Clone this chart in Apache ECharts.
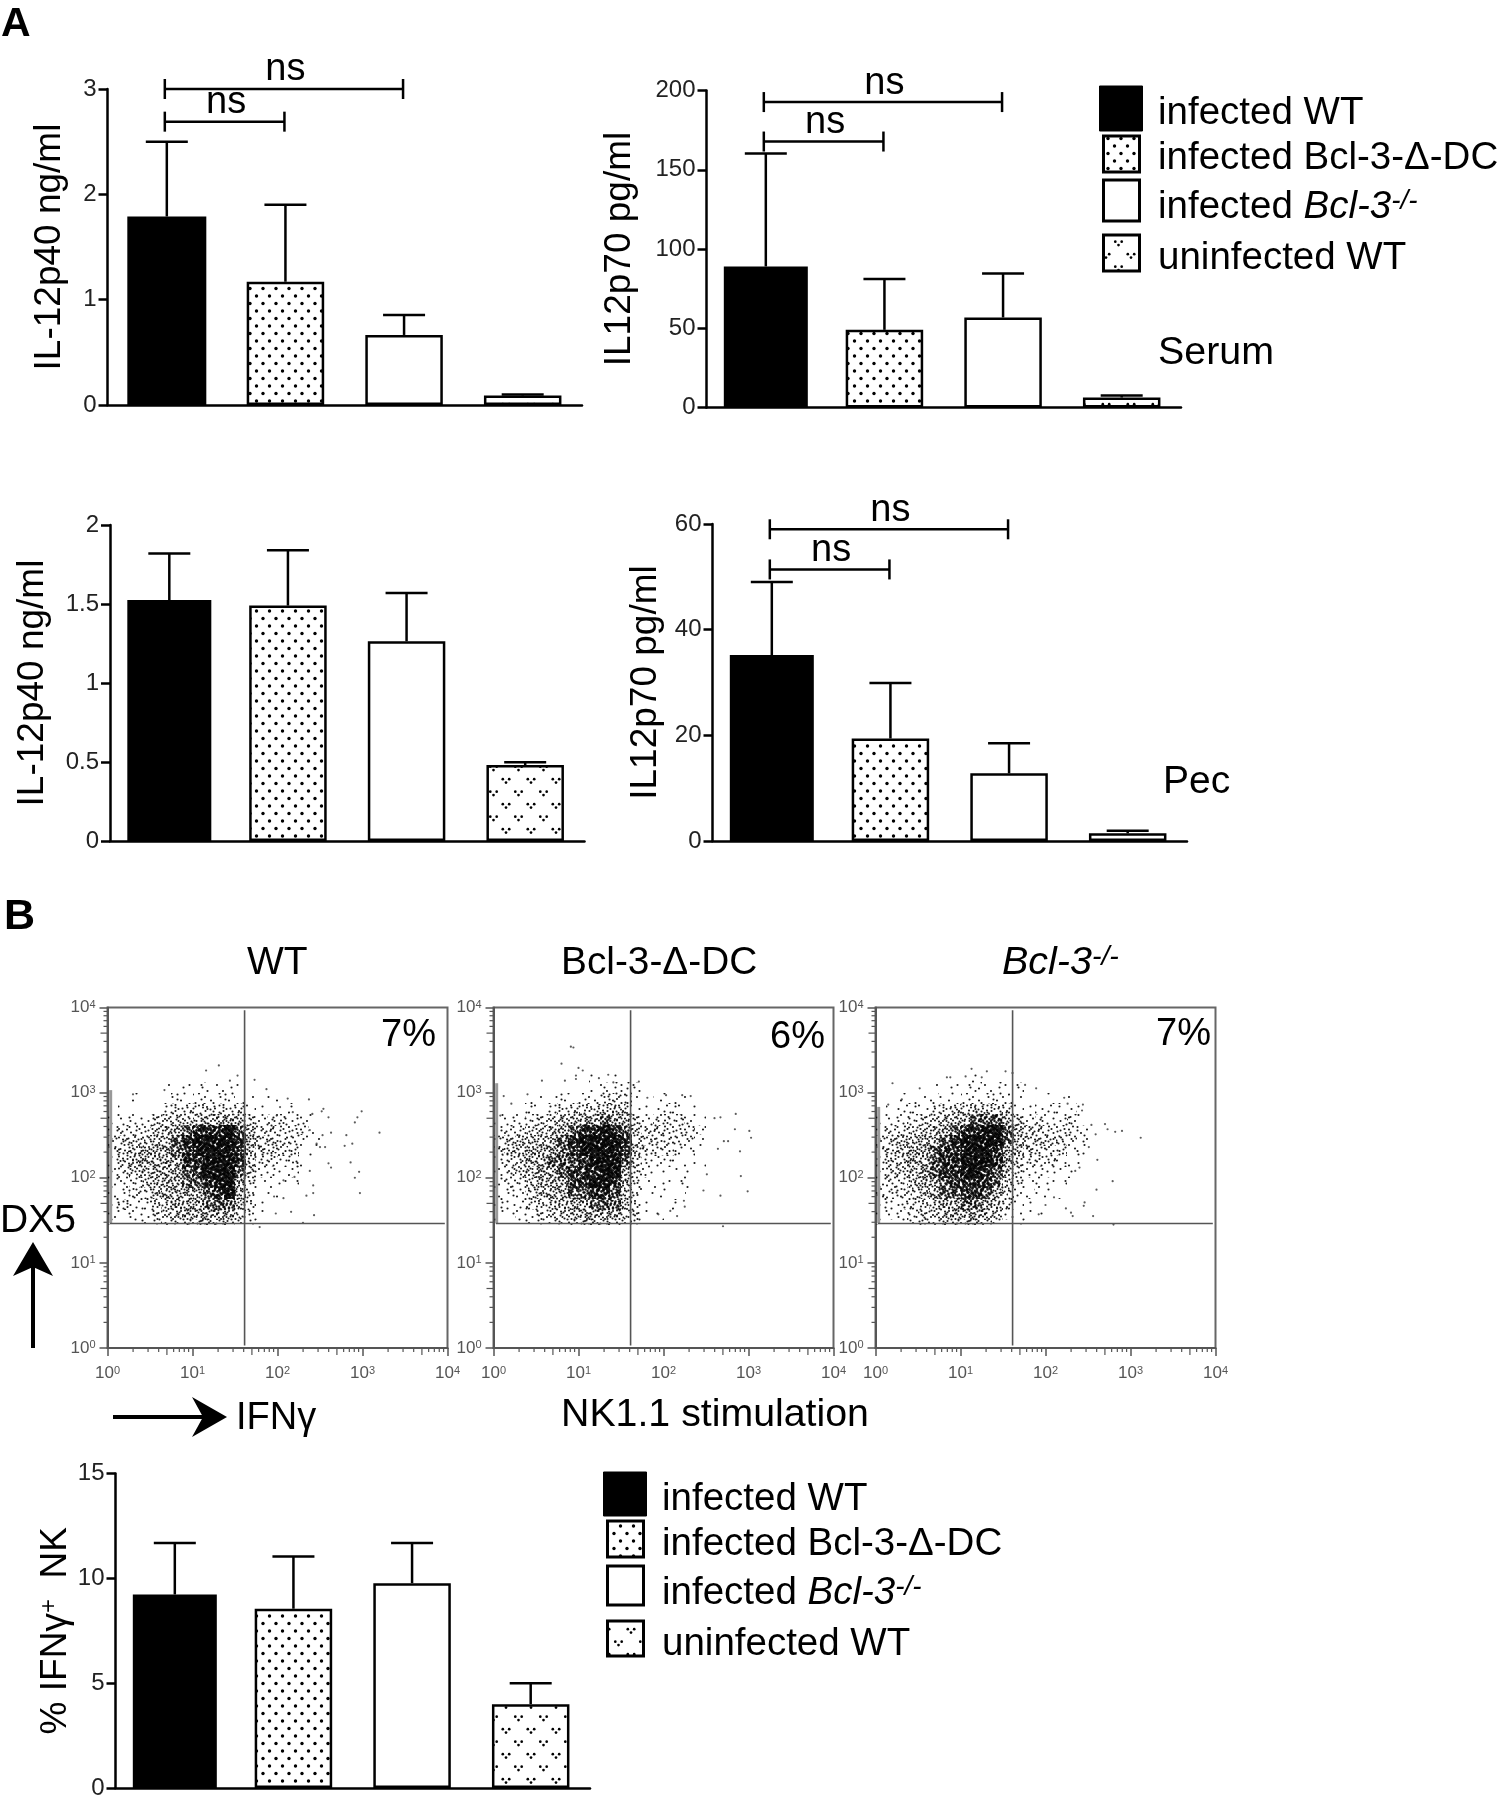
<!DOCTYPE html>
<html>
<head>
<meta charset="utf-8">
<title>Bcl-3 IL-12 and NK cell panels</title>
<style>
html, body { margin: 0; padding: 0; background: #fff; }
#main { width: 1499px; height: 1800px; }
/* the original figure is a slightly soft scan */
#main canvas { filter: blur(0.4px); }
</style>
<script src="https://cdn.jsdelivr.net/npm/echarts@6/dist/echarts.min.js"></script>
</head>
<body>
<div id="main"></div>
<script>
// group names, same order in every bar panel
var groupNames = ['infected WT', 'infected Bcl-3-Δ-DC', 'infected Bcl-3-/-', 'uninfected WT'];

// bar heights and tops of the error bars
var serumP40Means = [1.79, 1.17, 0.665, 0.09];
var serumP40Tops = [2.5, 1.9, 0.855, 0.1];
var serumP70Means = [89, 49, 56.8, 6.3];
var serumP70Tops = [160.3, 81, 84.6, 7.6];
var pecP40Means = [1.525, 1.49, 1.264, 0.481];
var pecP40Tops = [1.82, 1.84, 1.57, 0.498];
var pecP70Means = [35.2, 19.4, 12.8, 1.45];
var pecP70Tops = [49, 29.9, 18.5, 1.95];
var ifnMeans = [9.23, 8.55, 9.77, 4.0];
var ifnTops = [11.69, 11.04, 11.69, 5.0];

// significance brackets: from group, to group, height
var serumP40Brackets = [[0, 2, 3], [0, 1, 2.69]];
var serumP70Brackets = [[0, 2, 192.7], [0, 1, 167.8]];
var pecP70Brackets = [[0, 2, 59], [0, 1, 51.4]];

// flow plots: gates and the pile-up of events on the left edge
var flowTitles = ['WT', 'Bcl-3-Δ-DC', 'Bcl-3-/-'];
var flowPercents = ['7%', '6%', '7%'];
var gateX = [41, 41, 41];
var gateY = [29, 29, 29];
var edgePileTops = [1070, 1290, 680];
var logDecades = [1, 10, 100, 1000];
var logMinors = [2, 3, 4, 5, 6, 7, 8, 9];

// event density, one digit per cell (0 empty, 9 almost black)
// rows go down from 10^3.25, columns go right from 10^0, each 1/8 decade
var densityWT = [
    '000000000000000000000',
    '000001011111100000000',
    '001001212222110100000',
    '011012333433321111100',
    '122234445566532332210',
    '233345678889753433310',
    '344455789999864433210',
    '345666789999854443110',
    '245666688999853323100',
    '234556678999742212000',
    '223456677899631111000',
    '223356666789631100000',
    '232245666777531100000',
    '212234566666421000000',
    '111223344444220000000'
];
var densityDC = [
    '000000000111000000000',
    '000000000122210000000',
    '000111212233310111100',
    '011212334445421222110',
    '122334556676632333210',
    '233445678898743433320',
    '345556789999844333310',
    '355666789999853332200',
    '234667778999742221110',
    '234566788899632111110',
    '233466688998631111100',
    '222456677887531110100',
    '222345566777531111000',
    '112234456666431100000',
    '112222334443320000000'
];
var densityKO = [
    '000000100100100000000',
    '000001011212110000000',
    '001112112222211010100',
    '012223344544321221210',
    '122334556777542322310',
    '233445678899754433320',
    '345566789999754444320',
    '345667889998654333220',
    '344667889998643332110',
    '244567889987532221100',
    '233566788887431211000',
    '333456778876422111000',
    '223345667765321110000',
    '122344566654211100000',
    '111233444432110000000'
];

// single events away from the cloud, as [log10 x, log10 y]
var strayWT = [[3.2, 2.53], [2.99, 2.78], [2.94, 2.71], [2.91, 2.65], [2.81, 2.5], [2.79, 2.375], [2.88, 2.4], [2.86, 2.18], [2.96, 2.07], [2.91, 2], [2.97, 1.82], [2.6, 2.71], [2.54, 2.81], [2.52, 2.78], [2.41, 2.75], [2.37, 2.92], [2.12, 2.93], [1.87, 3.04], [1.73, 3.15], [1.53, 3.2], [1.44, 3.14], [1.31, 3.32], [1.16, 3.26], [0.3, 2.98], [0.67, 3.03], [2.42, 1.82], [2.42, 1.91], [2.38, 2.08], [2.6, 2.17], [2.63, 2.12], [2.43, 1.56], [2.16, 1.6], [1.98, 1.58], [2.07, 1.76], [2.07, 1.97], [2.2, 2.01], [2.34, 1.79], [1.96, 1.78], [1.79, 1.42], [2.3, 1.47], [2.5, 2.36], [2.56, 2.36], [2.46, 2.4], [2.63, 2.53], [2.53, 2.5], [2.38, 2.56], [2.18, 2.77], [2.03, 2.83], [1.99, 2.73]];
var strayDC = [[0.94, 3.53], [0.91, 3.54], [0.8, 3.34], [1, 3.29], [1.05, 3.26], [0.97, 3.2], [0.97, 3.16], [0.57, 3.14], [0.84, 3.14], [1.35, 3.21], [1.24, 3.17], [1.41, 3.12], [1.71, 3.13], [1.81, 2.94], [2.03, 2.97], [2.22, 2.97], [2.32, 2.96], [2.85, 2.75], [2.67, 2.71], [2.6, 2.7], [2.71, 2.43], [2.76, 2.43], [2.84, 2.57], [3.01, 2.55], [3.03, 2.47], [2.9, 2.31], [2.91, 2.02], [2.99, 1.84], [2.67, 1.79], [2.64, 2.34], [2.7, 1.43], [2.24, 1.73], [2.25, 1.66], [2.16, 1.55], [2.08, 1.61], [1.94, 1.57], [2.47, 1.85], [2.51, 2.04], [0.4, 2.98], [0.12, 2.96], [0.21, 2.87], [0.08, 2.73]];
var strayKO = [[3.12, 2.47], [2.9, 2.55], [2.82, 2.54], [2.73, 2.57], [2.7, 2.63], [2.79, 1.96], [2.6, 1.86], [2.54, 2.62], [2.59, 2.51], [2.61, 2.21], [2.56, 1.55], [2.46, 1.71], [2.45, 1.67], [2.32, 1.55], [2.3, 1.59], [2.24, 1.64], [2.44, 2.86], [2.43, 2.79], [2.22, 2.94], [2.26, 2.87], [1.89, 3.05], [1.76, 3.09], [1.53, 3.25], [1.31, 3.25], [1.13, 3.28], [1.25, 3.18], [1.06, 3.19], [0.88, 3.18], [0.84, 3.18], [0.52, 3.05], [0.2, 3.11], [0.31, 2.92], [0.15, 2.86], [2.8, 1.45], [2.1, 1.77], [1.92, 1.57], [2, 1.68], [2.35, 2.08], [2.4, 2.12], [2.51, 2.36]];

var FONT = '"Liberation Sans", Arial, sans-serif';
var CLOUD_STEP = 0.125;
var CLOUD_TOP = 3.25;
var CLOUD_FLOOR = 1.44;

// stipple used for the flow clouds: digit decides from which level a dot shows, 0 never
var stippleRows = [
    '305172946083517293640158',
    '718462039571846205937264',
    '264905817362095481726039',
    '590738264019637250481672',
    '137526094875312968407351',
    '842019673241850736192584',
    '069385127960428513670429',
    '475612840537196024835716',
    '921047358162739481052983',
    '360895214706482597316204',
    '784231609358015263948571',
    '153976482014367819502638',
    '608425137692840135769240',
    '291763058417926370481596',
    '547018926350148592637013',
    '836491270685371046219785',
    '012857463192605784930462',
    '679304518726439120857316',
    '358140692875013469271058',
    '124796835064278513906427',
    '780523149360891627345190',
    '465918270234756019682543',
    '903267584192340875126079',
    '216840395718562934708615'
];

function makeTile(w, h, draw) {
    var c = document.createElement('canvas');
    c.width = w;
    c.height = h;
    var ctx = c.getContext('2d');
    ctx.fillStyle = '#000';
    draw(ctx);
    return { image: c, repeat: 'repeat' };
}

function dot(ctx, x, y, r) {
    ctx.beginPath();
    ctx.arc(x, y, r, 0, Math.PI * 2);
    ctx.fill();
}

var cloudTiles = [null];
for (var lvl = 1; lvl <= 9; lvl++) {
    (function (level) {
        // the densest cells get fatter dots so the core closes up to nearly black
        var radius = 1.05 + Math.max(0, level - 6) * 0.17;
        cloudTiles[level] = makeTile(48, 48, function (ctx) {
            ctx.fillStyle = 'rgba(0,0,0,0.9)';
            stippleRows.forEach(function (row, y) {
                for (var x = 0; x < row.length; x++) {
                    var d = +row.charAt(x);
                    if (d === 0) continue;
                    var show = level === 1 ? (d === 1 && (x + y) % 2 === 0) : d <= (level === 9 ? 9 : level - 1);
                    if (!show) continue;
                    // nudge each dot off the 2px lattice so the tile does not look woven
                    var dx = ((d * 7 + x) % 3 - 1) * 0.5;
                    var dy = ((d * 5 + y) % 3 - 1) * 0.5;
                    dot(ctx, (x * 2 + 1 + dx + 48) % 48, (y * 2 + 1 + dy + 48) % 48, radius);
                }
            });
        });
    })(lvl);
}

// bar fills
var dotFill = makeTile(13, 15, function (ctx) {
    dot(ctx, 3, 3.5, 1.7);
    dot(ctx, 9.5, 11, 1.7);
});
var vFill = makeTile(25, 25, function (ctx) {
    [[6, 6], [18.5, 18.5]].forEach(function (p) {
        dot(ctx, p[0] - 3.2, p[1] - 1.8, 1.35);
        dot(ctx, p[0] + 3.2, p[1] - 1.8, 1.35);
        dot(ctx, p[0], p[1] + 1.6, 1.35);
    });
});
var groupFills = ['#000', dotFill, '#fff', vFill];

var barPanels = [
    { title: 'IL-12p40 ng/ml', means: serumP40Means, tops: serumP40Tops, brackets: serumP40Brackets, max: 3, interval: 1, left: 107.5, top: 89, width: 474.5, height: 316, blackWidth: 79, barWidth: 77.5, nameGap: 39 },
    { title: 'IL12p70 pg/ml', means: serumP70Means, tops: serumP70Tops, brackets: serumP70Brackets, max: 200, interval: 50, left: 706.5, top: 90.5, width: 474.5, height: 317, blackWidth: 84, barWidth: 77.5, nameGap: 68 },
    { title: 'IL-12p40 ng/ml', means: pecP40Means, tops: pecP40Tops, brackets: [], max: 2, interval: 0.5, left: 110, top: 525, width: 474.5, height: 316, blackWidth: 84, barWidth: 77.5, nameGap: 59 },
    { title: 'IL12p70 pg/ml', means: pecP70Means, tops: pecP70Tops, brackets: pecP70Brackets, max: 60, interval: 20, left: 712.5, top: 524, width: 474.5, height: 317, blackWidth: 84, barWidth: 77.5, nameGap: 48 },
    { title: '% IFNγ{sup|+}  NK', means: ifnMeans, tops: ifnTops, brackets: [], max: 15, interval: 5, left: 115.5, top: 1473.5, width: 474.5, height: 317, blackWidth: 84, barWidth: 77.5, nameGap: 37 }
];

var flowPanels = [
    { density: densityWT, stray: strayWT, left: 107.5 },
    { density: densityDC, stray: strayDC, left: 493.5 },
    { density: densityKO, stray: strayKO, left: 875.5 }
];

var grids = [], xAxes = [], yAxes = [], series = [];

function axisStyle() {
    return { show: true, onZero: false, lineStyle: { color: '#000', width: 2.5 } };
}

function errorItem(params, api) {
    var x = api.coord([api.value(0), api.value(1)]);
    var t = api.coord([api.value(0), api.value(2)]);
    var st = { stroke: '#000', lineWidth: 2.5, fill: null };
    return {
        type: 'group',
        children: [
            { type: 'line', shape: { x1: x[0], y1: x[1], x2: t[0], y2: t[1] }, style: st },
            { type: 'line', shape: { x1: t[0] - 21, y1: t[1], x2: t[0] + 21, y2: t[1] }, style: st }
        ]
    };
}

function bracketItem(params, api) {
    var a = api.coord([api.value(0), api.value(1)]);
    var b = api.coord([api.value(2), api.value(1)]);
    var st = { stroke: '#000', lineWidth: 2.5, fill: null };
    return {
        type: 'group',
        children: [
            { type: 'line', shape: { x1: a[0] - 2, y1: a[1], x2: b[0] - 1, y2: b[1] }, style: st },
            { type: 'line', shape: { x1: a[0] - 2, y1: a[1] - 10, x2: a[0] - 2, y2: a[1] + 10 }, style: st },
            { type: 'line', shape: { x1: b[0] - 1, y1: b[1] - 10, x2: b[0] - 1, y2: b[1] + 10 }, style: st },
            { type: 'text', style: { text: 'ns', x: (a[0] + b[0]) / 2, y: a[1] - 19, align: 'center', verticalAlign: 'middle', font: '38px ' + FONT, fill: '#000' } }
        ]
    };
}

barPanels.forEach(function (p) {
    var gi = grids.length;
    var xMain = xAxes.length;
    var yi = yAxes.length;
    grids.push({ left: p.left, top: p.top, width: p.width, height: p.height, containLabel: false });
    xAxes.push({ type: 'category', gridIndex: gi, data: groupNames, axisLine: axisStyle(), axisTick: { show: false }, axisLabel: { show: false } });
    // black bars are a little wider, so they get their own hidden axis
    xAxes.push({ type: 'category', gridIndex: gi, data: groupNames, show: false });
    yAxes.push({
        type: 'value', gridIndex: gi, min: 0, max: p.max, interval: p.interval,
        axisLine: axisStyle(),
        axisTick: { show: true, length: 9, lineStyle: { color: '#000', width: 2.5 } },
        splitLine: { show: false },
        axisLabel: { margin: 11, color: '#222', fontFamily: FONT, fontSize: 24 },
        name: p.title, nameLocation: 'middle', nameRotate: 90, nameGap: p.nameGap,
        nameTextStyle: { fontFamily: FONT, fontSize: 37, color: '#000', rich: { sup: { fontFamily: FONT, fontSize: 24, verticalAlign: 'top' } } }
    });
    groupNames.forEach(function (name, g) {
        series.push({
            type: 'bar', name: name, xAxisIndex: g === 0 ? xMain + 1 : xMain, yAxisIndex: yi,
            barWidth: g === 0 ? p.blackWidth : p.barWidth, barGap: '-100%',
            itemStyle: { color: groupFills[g], borderColor: '#000', borderWidth: 2.5 },
            data: p.means.map(function (v, i) { return i === g ? v : '-'; }),
            animation: false, silent: true
        });
    });
    series.push({
        type: 'custom', xAxisIndex: xMain, yAxisIndex: yi, z: 1, renderItem: errorItem, silent: true, animation: false,
        encode: { x: 0, y: 1 },
        data: p.means.map(function (v, i) { return [i, v, p.tops[i]]; })
    });
    if (p.brackets.length) {
        series.push({
            type: 'custom', xAxisIndex: xMain, yAxisIndex: yi, z: 3, renderItem: bracketItem, silent: true, animation: false,
            encode: { x: 0, y: 1 },
            data: p.brackets.map(function (b) { return [b[0], b[2], b[1]]; })
        });
    }
});

function decadeLabel(v) {
    return '{b|10}{s|' + Math.round(Math.log(v) / Math.LN10) + '}';
}

function flowLabel(margin) {
    return {
        margin: margin, formatter: decadeLabel, showMinLabel: true, showMaxLabel: true, hideOverlap: false,
        rich: {
            b: { fontFamily: FONT, fontSize: 17, color: '#555' },
            s: { fontFamily: FONT, fontSize: 11, color: '#555', verticalAlign: 'top' }
        }
    };
}

function flowAxis(gi, dim) {
    var isX = dim === 'x';
    return {
        type: 'log', logBase: 10, min: 1, max: 10000, gridIndex: gi,
        axisLine: { show: true, onZero: false, lineStyle: { color: '#555', width: 2 } },
        axisTick: { show: true, length: 8, lineStyle: { color: '#555', width: 1.5 } },
        splitLine: { show: false },
        axisLabel: flowLabel(isX ? 17 : 12)
    };
}

function cloudItem(params, api) {
    var a = api.coord([api.value(0), api.value(1)]);
    var b = api.coord([api.value(3), api.value(4)]);
    var x = Math.round(a[0]), y = Math.round(a[1]);
    return {
        type: 'rect',
        shape: { x: x, y: y, width: Math.round(b[0]) - x, height: Math.round(b[1]) - y },
        style: { fill: cloudTiles[api.value(2)] }
    };
}

function cloudCells(rows) {
    var cells = [];
    rows.forEach(function (row, r) {
        for (var c = 0; c < row.length; c++) {
            var level = +row.charAt(c);
            if (!level) continue;
            cells.push([
                Math.pow(10, c * CLOUD_STEP),
                Math.pow(10, CLOUD_TOP - r * CLOUD_STEP),
                level,
                Math.pow(10, (c + 1) * CLOUD_STEP),
                Math.pow(10, Math.max(CLOUD_TOP - (r + 1) * CLOUD_STEP, CLOUD_FLOOR))
            ]);
        }
    });
    return cells;
}

// log minor ticks on both axes, drawn outward
function minorTickItem(params, api) {
    var v = api.value(0);
    var along = api.value(1);
    var st = { stroke: '#555', lineWidth: 1.2, fill: null };
    var mult = Math.round(v / Math.pow(10, Math.floor(Math.log(v) / Math.LN10 + 1e-9)));
    var len = mult === 5 ? 7 : 4;
    if (along === 0) {
        var px = api.coord([v, 1]);
        return { type: 'line', shape: { x1: px[0], y1: px[1], x2: px[0], y2: px[1] + len }, style: st };
    }
    var py = api.coord([1, v]);
    return { type: 'line', shape: { x1: py[0], y1: py[1], x2: py[0] - len, y2: py[1] }, style: st };
}

function gateItem(params, api) {
    var gx = api.value(0), gy = api.value(1), pile = api.value(2);
    var top = api.coord([gx, 9300]);
    var bottom = api.coord([gx, 1.07]);
    var left = api.coord([1.07, gy]);
    var right = api.coord([9300, gy]);
    var pileTop = api.coord([1.09, pile]);
    var st = { stroke: '#555', lineWidth: 1.6, fill: null };
    return {
        type: 'group',
        children: [
            { type: 'line', shape: { x1: pileTop[0], y1: pileTop[1], x2: pileTop[0], y2: left[1] }, style: { stroke: '#999', lineWidth: 3, fill: null } },
            { type: 'line', shape: { x1: top[0], y1: top[1], x2: bottom[0], y2: bottom[1] }, style: st },
            { type: 'line', shape: { x1: left[0], y1: left[1], x2: right[0], y2: right[1] }, style: st }
        ]
    };
}

flowPanels.forEach(function (p, f) {
    var gi = grids.length;
    var xi = xAxes.length;
    var yi = yAxes.length;
    grids.push({ left: p.left, top: 1007.5, width: 340, height: 340.5, show: true, borderColor: '#666', borderWidth: 2, backgroundColor: 'transparent' });
    xAxes.push(flowAxis(gi, 'x'));
    yAxes.push(flowAxis(gi, 'y'));

    var minorData = [];
    logDecades.forEach(function (d) {
        logMinors.forEach(function (m) {
            minorData.push([d * m, 0]);
            minorData.push([d * m, 1]);
        });
    });
    series.push({
        type: 'custom', xAxisIndex: xi, yAxisIndex: yi, renderItem: cloudItem, silent: true, animation: false,
        encode: { x: 0, y: 1 }, data: cloudCells(p.density)
    });
    series.push({
        type: 'scatter', xAxisIndex: xi, yAxisIndex: yi, symbolSize: 2.2, silent: true, animation: false, z: 2,
        itemStyle: { color: '#333' },
        data: p.stray.map(function (s) { return [Math.pow(10, s[0]), Math.pow(10, s[1])]; })
    });
    series.push({
        type: 'custom', xAxisIndex: xi, yAxisIndex: yi, renderItem: gateItem, silent: true, animation: false, z: 3,
        encode: { x: 0, y: 1 }, data: [[gateX[f], gateY[f], edgePileTops[f]]]
    });
    series.push({
        type: 'custom', xAxisIndex: xi, yAxisIndex: yi, renderItem: minorTickItem, silent: true, animation: false, z: 3,
        encode: { x: 0 }, data: minorData
    });
});

// free text placed by baseline
function text(str, x, baseline, size, extra) {
    var style = { text: str, x: x, y: baseline - size * 0.26, fontFamily: FONT, fontSize: size, fill: '#000', align: 'left', verticalAlign: 'middle' };
    for (var k in (extra || {})) style[k] = extra[k];
    return { type: 'text', silent: true, style: style };
}

var koRich = function (size) {
    return {
        i: { fontFamily: FONT, fontSize: size, fontStyle: 'italic' },
        p: { fontFamily: FONT, fontSize: size },
        s: { fontFamily: FONT, fontSize: size * 0.72, fontStyle: 'italic', verticalAlign: 'top' }
    };
};

function swatch(x, y, w, h, g) {
    return { type: 'rect', silent: true, shape: { x: x, y: y, width: w, height: h }, style: { fill: groupFills[g], stroke: '#000', lineWidth: g === 0 ? 1 : 3 } };
}

function legendBlock(textX, blackX, boxX, boxes, baselines) {
    var items = [];
    boxes.forEach(function (b, g) {
        items.push(swatch(g === 0 ? blackX : boxX, b[0], g === 0 ? 43 : 36, b[1] - b[0], g));
    });
    items.push(text(groupNames[0], textX, baselines[0], 38.5));
    items.push(text(groupNames[1], textX, baselines[1], 38.5));
    items.push(text('{p|infected }{i|Bcl-3}{s|-/-}', textX, baselines[2], 38.5, { rich: koRich(38.5) }));
    items.push(text(groupNames[3], textX, baselines[3], 38.5));
    return items;
}

var graphics = [];
graphics.push(text('A', 1, 35, 41, { fontWeight: 'bold' }));
graphics.push(text('B', 4, 928, 43, { fontWeight: 'bold' }));
graphics = graphics.concat(legendBlock(1158, 1099.5, 1103.5, [[86, 131], [136, 172], [180, 221], [235, 271]], [123, 168, 217, 268]));
graphics = graphics.concat(legendBlock(662, 603.5, 607.5, [[1472, 1516], [1521, 1557], [1566, 1605], [1621, 1656]], [1509, 1554, 1603, 1654]));
graphics.push(text('Serum', 1158, 363, 39.4));
graphics.push(text('Pec', 1163, 792, 39));
graphics.push(text('NK1.1 stimulation', 561, 1425, 39.3));
graphics.push(text('DX5', 0, 1231, 39));
graphics.push(text('IFNγ', 236, 1428, 38));
graphics.push(text(flowTitles[0], 247, 973, 39));
graphics.push(text(flowTitles[1], 561, 973, 38.8));
graphics.push(text('{i|Bcl-3}{s|-/-}', 1002, 973, 39.5, { rich: koRich(39.5) }));
graphics.push(text(flowPercents[0], 381, 1045, 38));
graphics.push(text(flowPercents[1], 770, 1047, 38));
graphics.push(text(flowPercents[2], 1156, 1044, 38));
// DX5 and IFNg arrows
graphics.push({ type: 'line', silent: true, shape: { x1: 33, y1: 1348, x2: 33, y2: 1265 }, style: { stroke: '#000', lineWidth: 4 } });
graphics.push({ type: 'polygon', silent: true, shape: { points: [[33, 1242], [53, 1276], [33, 1267], [13, 1276]] }, style: { fill: '#000' } });
graphics.push({ type: 'line', silent: true, shape: { x1: 113, y1: 1417, x2: 205, y2: 1417 }, style: { stroke: '#000', lineWidth: 4 } });
graphics.push({ type: 'polygon', silent: true, shape: { points: [[227, 1417], [192, 1397], [203, 1417], [192, 1437]] }, style: { fill: '#000' } });

var chart = echarts.init(document.getElementById('main'));
chart.setOption({
    animation: false,
    backgroundColor: '#fff',
    grid: grids,
    xAxis: xAxes,
    yAxis: yAxes,
    series: series,
    graphic: { elements: graphics }
});
</script>
</body>
</html>
